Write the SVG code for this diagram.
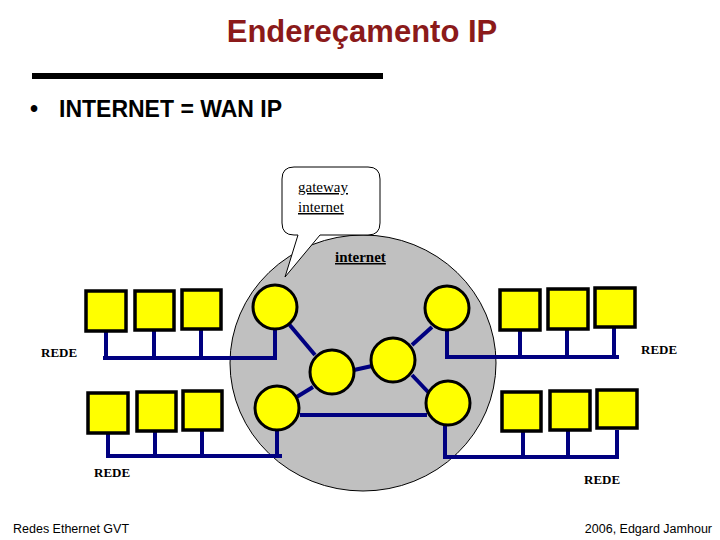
<svg xmlns="http://www.w3.org/2000/svg" width="720" height="540" viewBox="0 0 720 540">
<defs>
<style>
.title{font-family:"Liberation Sans",Arial,sans-serif;font-weight:bold;font-size:31px;fill:#8B1A1A}
.bullet{font-family:"Liberation Sans",Arial,sans-serif;font-weight:bold;font-size:23px;fill:#000}
.foot{font-family:"Liberation Sans",Arial,sans-serif;font-size:12.5px;fill:#000}
.rede{font-family:"Liberation Serif","Times New Roman",serif;font-weight:bold;font-size:13px;fill:#000}
.bub{font-family:"Liberation Serif","Times New Roman",serif;font-size:15px;fill:#000;text-decoration:underline}
.net{font-family:"Liberation Serif","Times New Roman",serif;font-weight:bold;font-size:15px;fill:#000;text-decoration:underline}
.wire{stroke:#000080;stroke-width:4;fill:none;stroke-linecap:butt}
.router{fill:#FFFF00;stroke:#000;stroke-width:3}
.host{fill:#FFFF00;stroke:#000;stroke-width:3.5}
</style>
</defs>
<rect x="0" y="0" width="720" height="540" fill="#fff"/>
<text class="title" x="362" y="42" text-anchor="middle">Endereçamento IP</text>
<rect x="32" y="73" width="351" height="6" fill="#000"/>
<text class="bullet" x="30" y="117">•</text>
<text class="bullet" x="59" y="117">INTERNET = WAN IP</text>

<g id="internet-cloud">
<ellipse cx="363" cy="363" rx="133" ry="128" fill="#C0C0C0" stroke="#000" stroke-width="1"/>
<text class="net" x="335" y="262">internet</text>
</g>

<g id="callout">
<path d="M294,167 H368 Q380,167 380,179 V223 Q380,235 368,235 H320 L285,277 L298,235 H294 Q282,235 282,223 V179 Q282,167 294,167 Z" fill="#fff" stroke="#000" stroke-width="1"/>
<text class="bub" x="298" y="192">gateway</text>
<text class="bub" x="298" y="212">internet</text>
</g>

<g id="connectors">
<!-- backbone -->
<line class="wire" x1="288" y1="323" x2="315" y2="355"/>
<line class="wire" x1="295" y1="398" x2="313" y2="387"/>
<line class="wire" x1="354" y1="370" x2="372" y2="366"/>
<line class="wire" x1="412" y1="345" x2="432" y2="327"/>
<line class="wire" x1="412" y1="375" x2="429" y2="393"/>
<line class="wire" x1="300" y1="415" x2="427" y2="415"/>
<!-- top-left LAN -->
<line class="wire" x1="103" y1="358" x2="277" y2="358"/>
<line class="wire" x1="106" y1="331" x2="106" y2="358"/>
<line class="wire" x1="154" y1="331" x2="154" y2="358"/>
<line class="wire" x1="201" y1="330" x2="201" y2="358"/>
<line class="wire" x1="275" y1="329" x2="275" y2="358"/>
<!-- bottom-left LAN -->
<line class="wire" x1="106" y1="456" x2="282" y2="456"/>
<line class="wire" x1="108" y1="433" x2="108" y2="456"/>
<line class="wire" x1="155" y1="432" x2="155" y2="456"/>
<line class="wire" x1="202" y1="431" x2="202" y2="456"/>
<line class="wire" x1="277" y1="430" x2="277" y2="456"/>
<!-- top-right LAN -->
<line class="wire" x1="445" y1="357" x2="619" y2="357"/>
<line class="wire" x1="447" y1="330" x2="447" y2="357"/>
<line class="wire" x1="520" y1="330" x2="520" y2="357"/>
<line class="wire" x1="567" y1="329" x2="567" y2="357"/>
<line class="wire" x1="614" y1="328" x2="614" y2="357"/>
<!-- bottom-right LAN -->
<line class="wire" x1="443" y1="457" x2="619" y2="457"/>
<line class="wire" x1="445" y1="425" x2="445" y2="457"/>
<line class="wire" x1="523" y1="432" x2="523" y2="457"/>
<line class="wire" x1="568" y1="431" x2="568" y2="457"/>
<line class="wire" x1="617" y1="430" x2="617" y2="457"/>
</g>

<g id="router-tl"><circle class="router" cx="275" cy="307" r="22"/></g>
<g id="router-bl"><circle class="router" cx="277" cy="408" r="22"/></g>
<g id="router-ml"><circle class="router" cx="332" cy="372" r="22"/></g>
<g id="router-mr"><circle class="router" cx="393" cy="360" r="22"/></g>
<g id="router-tr"><circle class="router" cx="447" cy="308" r="22"/></g>
<g id="router-br"><circle class="router" cx="448" cy="403" r="22"/></g>

<g id="lan-tl">
<rect class="host" x="86" y="291" width="40" height="40"/>
<rect class="host" x="135" y="291" width="39" height="39"/>
<rect class="host" x="182" y="290" width="39" height="39"/>
<text class="rede" x="41" y="357">REDE</text>
</g>
<g id="lan-bl">
<rect class="host" x="88" y="393" width="40" height="40"/>
<rect class="host" x="137" y="392" width="39" height="39"/>
<rect class="host" x="183" y="391" width="39" height="39"/>
<text class="rede" x="94" y="477">REDE</text>
</g>
<g id="lan-tr">
<rect class="host" x="500" y="290" width="40" height="40"/>
<rect class="host" x="548" y="289" width="40" height="40"/>
<rect class="host" x="595" y="288" width="40" height="39"/>
<text class="rede" x="641" y="354">REDE</text>
</g>
<g id="lan-br">
<rect class="host" x="502" y="392" width="39" height="39"/>
<rect class="host" x="550" y="391" width="40" height="39"/>
<rect class="host" x="597" y="390" width="40" height="38"/>
<text class="rede" x="584" y="484">REDE</text>
</g>

<text class="foot" x="13" y="533">Redes Ethernet GVT</text>
<text class="foot" x="712" y="533" text-anchor="end">2006, Edgard Jamhour</text>
</svg>
